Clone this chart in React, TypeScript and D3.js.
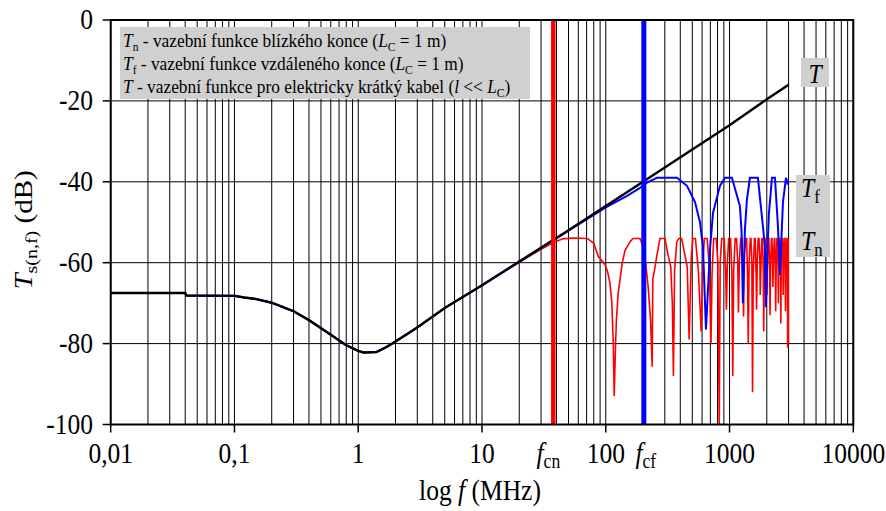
import React from 'react';
import * as d3 from 'd3';

// ---------- data ----------
const lowPart: [number, number][] = [
  [0.01, -67.5], [0.04, -67.5], [0.041, -68.1], [0.1, -68.2], [0.12, -68.6], [0.15, -69.0],
  [0.2, -69.9], [0.3, -72.0], [0.4, -74.2], [0.6, -77.8], [0.8, -80.4], [1.0, -81.8],
  [1.1, -82.2], [1.4, -82.1], [1.7, -80.8], [2, -79.5], [3, -76], [5, -71.2], [10, -65.6]
];

const seriesT: [number, number][] = [
  ...lowPart,
  [20, -59.7], [50, -52], [100, -46], [200, -40], [500, -32], [1000, -26], [2000, -19.6], [3000, -16]
];

const seriesTn: [number, number][] = [
  ...lowPart,
  [15, -62.2], [20, -59.9], [25, -58.1], [30, -56.7], [35, -55.6], [40, -54.7], [45, -54.1], [55, -53.9],
  [71, -54], [80, -55.2], [87, -58.5], [99, -60.5], [104, -62.5], [108, -65], [112, -70],
  [115, -80], [117, -93], [120, -80], [122, -74], [126, -67.5], [136, -60], [143, -57],
  [157, -54.8], [166, -54], [189, -54], [200, -56], [210, -60], [220, -66], [230, -74],
  [237, -85.7], [240, -64], [248, -61.7], [258, -58.5], [274, -54], [301, -54], [315, -57.3],
  [335, -61], [345, -70], [352, -88], [360, -61.7], [375, -54.8], [390, -54], [410, -54],
  [455, -61], [472, -79], [490, -59], [505, -54], [530, -54], [560, -62], [590, -77],
  [605, -62], [625, -54], [660, -54], [690, -62], [708, -80],
  [722, -63], [745, -54], [780, -54], [805, -60], [826, -100],
  [840, -60], [865, -54], [905, -54], [930, -62], [944, -71.6],
  [960, -60], [985, -54], [1020, -54], [1045, -63], [1062, -88],
  [1080, -62], [1110, -54], [1140, -54], [1165, -60], [1180, -72.3],
  [1200, -60], [1230, -54], [1260, -54], [1285, -62], [1298, -73.3],
  [1320, -58], [1350, -54], [1375, -54], [1400, -64], [1416, -80],
  [1440, -60], [1470, -54], [1490, -54], [1515, -60], [1534, -92],
  [1555, -62], [1590, -54], [1610, -54], [1640, -63], [1652, -71.6],
  [1680, -58], [1705, -54], [1730, -54], [1760, -60], [1770, -68],
  [1795, -60], [1825, -54], [1845, -54], [1875, -62], [1888, -77],
  [1915, -60], [1945, -54], [1965, -54], [1995, -60], [2006, -68],
  [2030, -58], [2060, -54], [2080, -54], [2110, -62], [2124, -73],
  [2150, -60], [2180, -54], [2200, -54], [2230, -60], [2242, -66],
  [2270, -58], [2300, -54], [2320, -54], [2345, -62], [2360, -72],
  [2385, -60], [2415, -54], [2440, -54], [2465, -60], [2478, -70],
  [2505, -58], [2535, -54], [2555, -54], [2585, -62], [2596, -75],
  [2620, -60], [2650, -54], [2675, -54], [2700, -58], [2714, -68],
  [2740, -60], [2770, -54], [2790, -54], [2820, -60], [2832, -72],
  [2860, -58], [2890, -54], [2910, -54], [2935, -62], [2950, -81],
  [2965, -60], [2980, -54], [2995, -80]
];

const seriesTf: [number, number][] = [
  ...lowPart,
  [20, -59.8], [50, -52.1], [100, -46.3], [150, -43.4], [189, -41.5], [215, -40.2], [259, -39], [376, -39],
  [453, -41], [526, -45], [577, -50], [610, -56], [645, -76.5], [695, -56.8], [735, -47.7],
  [837, -41], [919, -39], [1045, -39], [1213, -46], [1250, -52], [1282, -70], [1330, -52],
  [1381, -44.5], [1461, -39], [1695, -39], [1861, -51], [1930, -56], [1968, -71], [2030, -56],
  [2080, -48], [2202, -39], [2328, -39], [2461, -51], [2553, -63], [2702, -45], [2858, -39],
  [2965, -40.7]
];

const yTicks = [0, -20, -40, -60, -80, -100];
const xDecades = [0.01, 0.1, 1, 10, 100, 1000, 10000];
const xTickLabels = ['0,01', '0,1', '1', '10', '100', '1000', '10000'];
const fcn = 37.7;
const fcf = 203;

// ---------- layout ----------
const W = 886, H = 511;
const L = 110.7, R = 853.3, T = 20, B = 424.5;
const SX = 0.88;
const FONT = '"Liberation Serif", "Times New Roman", serif';

export default function App() {
  const x = d3.scaleLog().domain([0.01, 10000]).range([L, R]);
  const y = d3.scaleLinear().domain([-100, 0]).range([B, T]);
  const line = d3.line<[number, number]>().x(d => x(d[0])).y(d => y(d[1]));

  const minor: number[] = [];
  xDecades.slice(0, -1).forEach(d => {
    for (let m = 2; m <= 9; m++) minor.push(d * m);
  });

  return (
    <svg width={W} height={H} style={{ position: 'absolute', left: 0, top: 0 }} fontFamily={FONT}>
      <rect x={0} y={0} width={W} height={H} fill="#fff" />
      {/* grid */}
      {minor.concat(xDecades).map((v, i) => (
        <line key={'gx' + i} x1={x(v)} x2={x(v)} y1={T} y2={B} stroke="#000" strokeWidth={1} />
      ))}
      {yTicks.map((v, i) => (
        <line key={'gy' + i} x1={L} x2={R} y1={y(v)} y2={y(v)} stroke="#000" strokeWidth={1} />
      ))}
      {/* curves */}
      <path d={line(seriesTn) || ''} fill="none" stroke="#ff0000" strokeWidth={1.6} />
      <path d={line(seriesTf) || ''} fill="none" stroke="#0000ff" strokeWidth={2} />
      <path d={line(seriesT) || ''} fill="none" stroke="#000" strokeWidth={2.4} />
      {/* markers */}
      <line x1={x(fcn)} x2={x(fcn)} y1={T} y2={B} stroke="#ff0000" strokeWidth={4.5} />
      <line x1={x(fcf)} x2={x(fcf)} y1={T} y2={B} stroke="#0000ff" strokeWidth={5} />
      {/* frame */}
      <rect x={L} y={T} width={R - L} height={B - T} fill="none" stroke="#000" strokeWidth={2} />
      {/* ticks */}
      {yTicks.map((v, i) => (
        <line key={'ty' + i} x1={L - 8} x2={L} y1={y(v)} y2={y(v)} stroke="#000" strokeWidth={1.5} />
      ))}
      {xDecades.map((v, i) => (
        <line key={'tx' + i} x1={x(v)} x2={x(v)} y1={B} y2={B + 8} stroke="#000" strokeWidth={1.5} />
      ))}
      {/* y tick labels */}
      {yTicks.map((v, i) => (
        <g key={'ly' + i} transform={`translate(93,${y(v) + 9}) scale(${SX},1)`}>
          <text textAnchor="end" fontSize={29} fill="#000">{String(v)}</text>
        </g>
      ))}
      {/* x tick labels */}
      {xDecades.map((v, i) => (
        <g key={'lx' + i} transform={`translate(${x(v)},463) scale(${SX},1)`}>
          <text textAnchor="middle" fontSize={29} fill="#000">{xTickLabels[i]}</text>
        </g>
      ))}
      <g transform={`translate(${x(fcn) - 5},463) scale(${SX},1)`}>
        <text textAnchor="middle" fontSize={29} fill="#000">
          <tspan fontStyle="italic">f</tspan>
          <tspan fontSize={20} dy={5}>cn</tspan>
        </text>
      </g>
      <g transform={`translate(${x(fcf) + 2},463) scale(${SX},1)`}>
        <text textAnchor="middle" fontSize={29} fill="#000">
          <tspan fontStyle="italic">f</tspan>
          <tspan fontSize={20} dy={5}>cf</tspan>
        </text>
      </g>
      {/* x title */}
      <g transform={`translate(480,500) scale(${SX},1)`}>
        <text textAnchor="middle" fontSize={29} fill="#000">
          log <tspan fontStyle="italic">f</tspan> (MHz)
        </text>
      </g>
      {/* y title */}
      <g transform={`translate(32,230) scale(${SX},1) rotate(-90)`}>
        <text textAnchor="middle" fontSize={29} fill="#000">
          <tspan fontStyle="italic">T</tspan>
          <tspan fontSize={20} dy={6}>s(n,f)</tspan>
          <tspan dy={-6}> (dB)</tspan>
        </text>
      </g>
      {/* legend */}
      <rect x={120} y={27} width={410} height={72} fill="#d0d0d0" />
      <g transform={`translate(123,47) scale(0.89,1)`} fontSize={19.5} fill="#000">
        <text x={0} y={0}>
          <tspan fontStyle="italic">T</tspan>
          <tspan fontSize={13} dy={4}>n</tspan>
          <tspan dy={-4}> - vazební funkce blízkého konce (</tspan>
          <tspan fontStyle="italic">L</tspan>
          <tspan fontSize={13} dy={4}>C</tspan>
          <tspan dy={-4}> = 1 m)</tspan>
        </text>
        <text x={0} y={23}>
          <tspan fontStyle="italic">T</tspan>
          <tspan fontSize={13} dy={4}>f</tspan>
          <tspan dy={-4}> - vazební funkce vzdáleného konce (</tspan>
          <tspan fontStyle="italic">L</tspan>
          <tspan fontSize={13} dy={4}>C</tspan>
          <tspan dy={-4}> = 1 m)</tspan>
        </text>
        <text x={0} y={46}>
          <tspan fontStyle="italic">T</tspan>
          <tspan>{' - vazební funkce pro elektricky krátký kabel ('}</tspan>
          <tspan fontStyle="italic">l</tspan>
          <tspan>{' << '}</tspan>
          <tspan fontStyle="italic">L</tspan>
          <tspan fontSize={13} dy={4}>C</tspan>
          <tspan dy={-4}>)</tspan>
        </text>
      </g>
      {/* right labels */}
      <rect x={801} y={58} width={28} height={29} fill="#d0d0d0" />
      <g transform={`translate(815,83) scale(${SX},1)`}>
        <text textAnchor="middle" fontSize={27} fontStyle="italic" fill="#000">T</text>
      </g>
      <rect x={796} y={175} width={34} height={82} fill="#d0d0d0" />
      <g transform={`translate(801,197) scale(${SX},1)`}>
        <text fontSize={27} fill="#000">
          <tspan fontStyle="italic">T</tspan>
          <tspan fontSize={19} dy={6}>f</tspan>
        </text>
      </g>
      <g transform={`translate(801,250) scale(${SX},1)`}>
        <text fontSize={27} fill="#000">
          <tspan fontStyle="italic">T</tspan>
          <tspan fontSize={19} dy={6}>n</tspan>
        </text>
      </g>
    </svg>
  );
}
